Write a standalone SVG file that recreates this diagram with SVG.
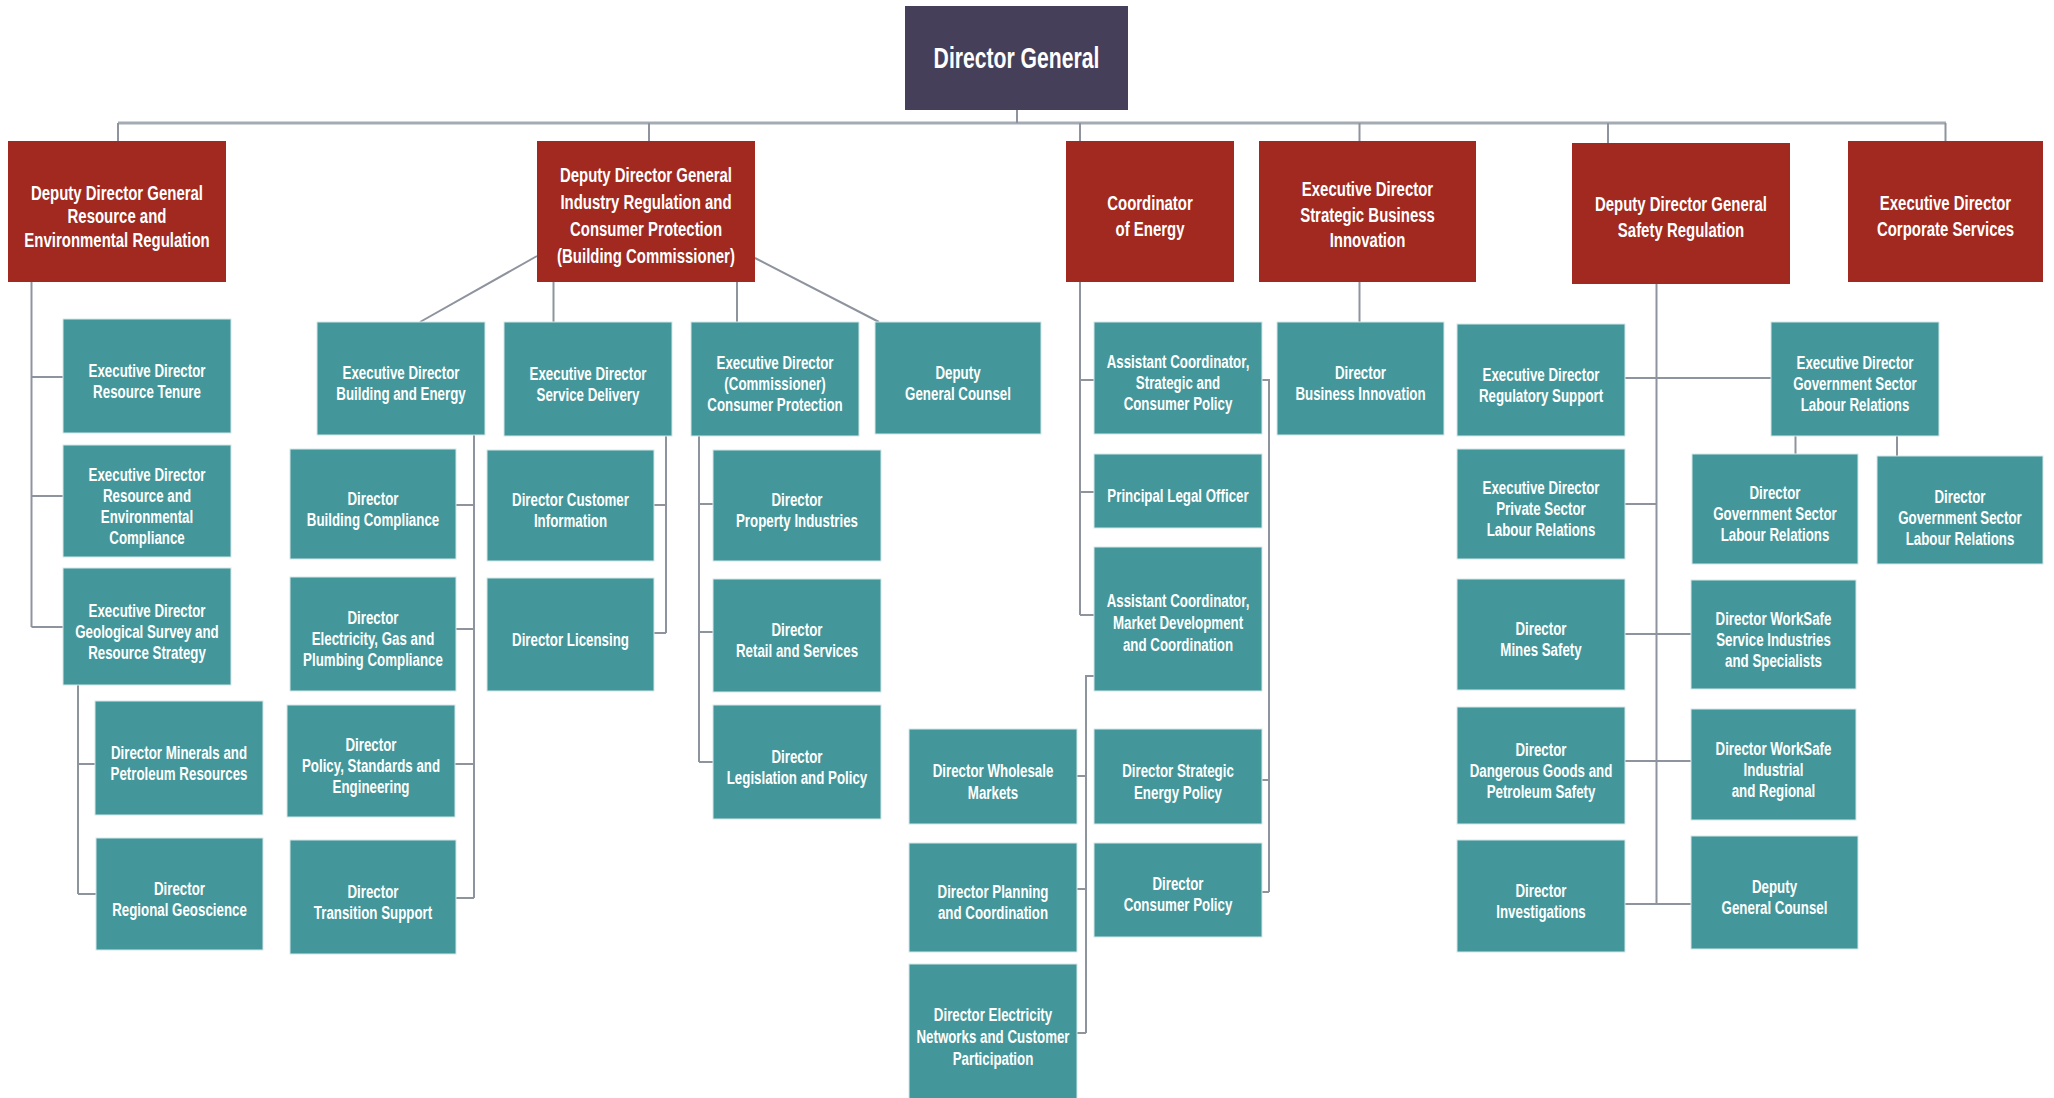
<svg xmlns="http://www.w3.org/2000/svg" width="2054" height="1098" viewBox="0 0 2054 1098">
<style>
.bg{fill:#ffffff}
.dg{fill:#463f5a}
.red{fill:#a1291f}
.teal{fill:#43979b;stroke:#d6e7e8;stroke-width:1}
.t{font-family:"Liberation Sans",Arial,sans-serif;font-weight:bold;fill:#ffffff;text-anchor:middle}
.ts{font-size:18.5px}
.tr{font-size:20.5px}
.tdg{font-size:29px}
.conn path{stroke:#8d949e;stroke-width:2;fill:none}
.conn .bus{stroke:#a4abb3;stroke-width:3}
</style>
<rect class="bg" x="0" y="0" width="2054" height="1098"/>

<g class="conn" id="connectors">
<path class="bus" d="M118 123 H1946"/>
<path d="M1017 110 V123 M118 123 V141 M649 123 V141 M1080 123 V141 M1359.5 123 V141 M1608 123 V143 M1945.5 123 V141"/>
<path d="M31.5 282 V627 M31.5 377 H63 M31.5 496 H63 M31.5 627 H63"/>
<path d="M78 685 V894 M78 764 H95 M78 894 H96"/>
<path d="M537 256 L420 322 M553.5 282 V322 M737 282 V322 M755 258 L879 322"/>
<path d="M474 435 V898 M456 505 H474 M456 629 H474 M455 764 H474 M456 898 H474"/>
<path d="M666 436 V633 M654 505 H666 M654 633 H666"/>
<path d="M699 436 V762 M699 504 H713 M699 632 H713 M699 762 H713"/>
<path d="M1080 282 V615 M1080 380 H1094 M1080 492 H1094 M1080 615 H1094"/>
<path d="M1094 676 H1086 V1033 M1077 776 H1086 M1077 889 H1086 M1077 1033 H1086"/>
<path d="M1262 380 H1269 V892 M1262 780 H1269 M1262 892 H1269"/>
<path d="M1359.5 282 V322"/>
<path d="M1656.5 284 V904 M1625 378 H1771 M1625 504 H1656.5 M1625 634 H1691 M1625 761 H1691 M1625 904 H1691"/>
<path d="M1795.5 436 V454 M1897 436 V456"/>
</g>

<g id="director-general">
<rect class="dg" x="905" y="6" width="223" height="104"/>
<text class="t tdg" transform="translate(1016.5 0) scale(0.73 1)"><tspan x="0" y="68.5">Director General</tspan></text>
</g>

<g id="ddg-resource">
<rect class="red" x="8" y="141" width="218" height="141"/>
<text class="t tr" transform="translate(117 0) scale(0.73 1)"><tspan x="0" y="200.5">Deputy Director General</tspan><tspan x="0" y="223.5">Resource and</tspan><tspan x="0" y="247">Environmental Regulation</tspan></text>
</g>
<g id="ddg-industry">
<rect class="red" x="537" y="141" width="218" height="141"/>
<text class="t tr" transform="translate(646 0) scale(0.73 1)"><tspan x="0" y="182.5">Deputy Director General</tspan><tspan x="0" y="209.5">Industry Regulation and</tspan><tspan x="0" y="236.5">Consumer Protection</tspan><tspan x="0" y="263.5">(Building Commissioner)</tspan></text>
</g>
<g id="coordinator-energy">
<rect class="red" x="1066" y="141" width="168" height="141"/>
<text class="t tr" transform="translate(1150 0) scale(0.73 1)"><tspan x="0" y="210.5">Coordinator</tspan><tspan x="0" y="236.5">of Energy</tspan></text>
</g>
<g id="ed-sbi">
<rect class="red" x="1259" y="141" width="217" height="141"/>
<text class="t tr" transform="translate(1367.5 0) scale(0.73 1)"><tspan x="0" y="196">Executive Director</tspan><tspan x="0" y="222">Strategic Business</tspan><tspan x="0" y="247.5">Innovation</tspan></text>
</g>
<g id="ddg-safety">
<rect class="red" x="1572" y="143" width="218" height="141"/>
<text class="t tr" transform="translate(1681 0) scale(0.73 1)"><tspan x="0" y="211.5">Deputy Director General</tspan><tspan x="0" y="237.5">Safety Regulation</tspan></text>
</g>
<g id="ed-corporate">
<rect class="red" x="1848" y="141" width="195" height="141"/>
<text class="t tr" transform="translate(1945.5 0) scale(0.73 1)"><tspan x="0" y="210.5">Executive Director</tspan><tspan x="0" y="236.5">Corporate Services</tspan></text>
</g>

<g id="ed-resource-tenure">
<rect class="teal" x="63" y="319" width="168" height="114"/>
<text class="t ts" transform="translate(147 0) scale(0.72 1)"><tspan x="0" y="377.5">Executive Director</tspan><tspan x="0" y="398.5">Resource Tenure</tspan></text>
</g>
<g id="ed-resource-env">
<rect class="teal" x="63" y="445" width="168" height="112"/>
<text class="t ts" transform="translate(147 0) scale(0.72 1)"><tspan x="0" y="481">Executive Director</tspan><tspan x="0" y="502">Resource and</tspan><tspan x="0" y="523">Environmental</tspan><tspan x="0" y="544">Compliance</tspan></text>
</g>
<g id="ed-geological">
<rect class="teal" x="63" y="568" width="168" height="117"/>
<text class="t ts" transform="translate(147 0) scale(0.72 1)"><tspan x="0" y="617">Executive Director</tspan><tspan x="0" y="638">Geological Survey and</tspan><tspan x="0" y="659">Resource Strategy</tspan></text>
</g>
<g id="dir-minerals">
<rect class="teal" x="95" y="701" width="168" height="114"/>
<text class="t ts" transform="translate(179 0) scale(0.72 1)"><tspan x="0" y="759">Director Minerals and</tspan><tspan x="0" y="780">Petroleum Resources</tspan></text>
</g>
<g id="dir-regional-geoscience">
<rect class="teal" x="96" y="838" width="167" height="112"/>
<text class="t ts" transform="translate(179.5 0) scale(0.72 1)"><tspan x="0" y="895">Director</tspan><tspan x="0" y="916">Regional Geoscience</tspan></text>
</g>

<g id="ed-building-energy">
<rect class="teal" x="317" y="322" width="168" height="113"/>
<text class="t ts" transform="translate(401 0) scale(0.72 1)"><tspan x="0" y="379.5">Executive Director</tspan><tspan x="0" y="400.5">Building and Energy</tspan></text>
</g>
<g id="dir-building-compliance">
<rect class="teal" x="290" y="449" width="166" height="110"/>
<text class="t ts" transform="translate(373 0) scale(0.72 1)"><tspan x="0" y="505">Director</tspan><tspan x="0" y="526">Building Compliance</tspan></text>
</g>
<g id="dir-egp-compliance">
<rect class="teal" x="290" y="577" width="166" height="114"/>
<text class="t ts" transform="translate(373 0) scale(0.72 1)"><tspan x="0" y="624.5">Director</tspan><tspan x="0" y="645.5">Electricity, Gas and</tspan><tspan x="0" y="666.5">Plumbing Compliance</tspan></text>
</g>
<g id="dir-policy-standards">
<rect class="teal" x="287" y="705" width="168" height="112"/>
<text class="t ts" transform="translate(371 0) scale(0.72 1)"><tspan x="0" y="751.5">Director</tspan><tspan x="0" y="772.5">Policy, Standards and</tspan><tspan x="0" y="793.5">Engineering</tspan></text>
</g>
<g id="dir-transition-support">
<rect class="teal" x="290" y="840" width="166" height="114"/>
<text class="t ts" transform="translate(373 0) scale(0.72 1)"><tspan x="0" y="898">Director</tspan><tspan x="0" y="919">Transition Support</tspan></text>
</g>
<g id="ed-service-delivery">
<rect class="teal" x="504" y="322" width="168" height="114"/>
<text class="t ts" transform="translate(588 0) scale(0.72 1)"><tspan x="0" y="380">Executive Director</tspan><tspan x="0" y="401">Service Delivery</tspan></text>
</g>
<g id="dir-customer-info">
<rect class="teal" x="487" y="450" width="167" height="111"/>
<text class="t ts" transform="translate(570.5 0) scale(0.72 1)"><tspan x="0" y="506.5">Director Customer</tspan><tspan x="0" y="527.5">Information</tspan></text>
</g>
<g id="dir-licensing">
<rect class="teal" x="487" y="578" width="167" height="113"/>
<text class="t ts" transform="translate(570.5 0) scale(0.72 1)"><tspan x="0" y="646">Director Licensing</tspan></text>
</g>
<g id="ed-consumer-protection">
<rect class="teal" x="691" y="322" width="168" height="114"/>
<text class="t ts" transform="translate(775 0) scale(0.72 1)"><tspan x="0" y="369.5">Executive Director</tspan><tspan x="0" y="390.5">(Commissioner)</tspan><tspan x="0" y="411.5">Consumer Protection</tspan></text>
</g>
<g id="deputy-general-counsel-1">
<rect class="teal" x="875" y="322" width="166" height="112"/>
<text class="t ts" transform="translate(958 0) scale(0.72 1)"><tspan x="0" y="379">Deputy</tspan><tspan x="0" y="400">General Counsel</tspan></text>
</g>
<g id="dir-property-industries">
<rect class="teal" x="713" y="450" width="168" height="111"/>
<text class="t ts" transform="translate(797 0) scale(0.72 1)"><tspan x="0" y="506.5">Director</tspan><tspan x="0" y="527.5">Property Industries</tspan></text>
</g>
<g id="dir-retail-services">
<rect class="teal" x="713" y="579" width="168" height="113"/>
<text class="t ts" transform="translate(797 0) scale(0.72 1)"><tspan x="0" y="636.5">Director</tspan><tspan x="0" y="657.5">Retail and Services</tspan></text>
</g>
<g id="dir-legislation-policy">
<rect class="teal" x="713" y="705" width="168" height="114"/>
<text class="t ts" transform="translate(797 0) scale(0.72 1)"><tspan x="0" y="763">Director</tspan><tspan x="0" y="784">Legislation and Policy</tspan></text>
</g>

<g id="asst-coord-strategic">
<rect class="teal" x="1094" y="322" width="168" height="112"/>
<text class="t ts" transform="translate(1178 0) scale(0.72 1)"><tspan x="0" y="368.5">Assistant Coordinator,</tspan><tspan x="0" y="389.5">Strategic and</tspan><tspan x="0" y="410.5">Consumer Policy</tspan></text>
</g>
<g id="principal-legal-officer">
<rect class="teal" x="1094" y="454" width="168" height="74"/>
<text class="t ts" transform="translate(1178 0) scale(0.72 1)"><tspan x="0" y="502.5">Principal Legal Officer</tspan></text>
</g>
<g id="asst-coord-market">
<rect class="teal" x="1094" y="547" width="168" height="144"/>
<text class="t ts" transform="translate(1178 0) scale(0.72 1)"><tspan x="0" y="607.5">Assistant Coordinator,</tspan><tspan x="0" y="629.5">Market Development</tspan><tspan x="0" y="651.5">and Coordination</tspan></text>
</g>
<g id="dir-wholesale-markets">
<rect class="teal" x="909" y="729" width="168" height="95"/>
<text class="t ts" transform="translate(993 0) scale(0.72 1)"><tspan x="0" y="777.5">Director Wholesale</tspan><tspan x="0" y="799.5">Markets</tspan></text>
</g>
<g id="dir-planning-coordination">
<rect class="teal" x="909" y="843" width="168" height="109"/>
<text class="t ts" transform="translate(993 0) scale(0.72 1)"><tspan x="0" y="898">Director Planning</tspan><tspan x="0" y="919.5">and Coordination</tspan></text>
</g>
<g id="dir-electricity-networks">
<rect class="teal" x="909" y="964" width="168" height="135"/>
<text class="t ts" transform="translate(993 0) scale(0.72 1)"><tspan x="0" y="1021.5">Director Electricity</tspan><tspan x="0" y="1043.5">Networks and Customer</tspan><tspan x="0" y="1065.5">Participation</tspan></text>
</g>
<g id="dir-strategic-energy">
<rect class="teal" x="1094" y="729" width="168" height="95"/>
<text class="t ts" transform="translate(1178 0) scale(0.72 1)"><tspan x="0" y="777.5">Director Strategic</tspan><tspan x="0" y="799.5">Energy Policy</tspan></text>
</g>
<g id="dir-consumer-policy">
<rect class="teal" x="1094" y="843" width="168" height="94"/>
<text class="t ts" transform="translate(1178 0) scale(0.72 1)"><tspan x="0" y="890.5">Director</tspan><tspan x="0" y="911.5">Consumer Policy</tspan></text>
</g>

<g id="dir-business-innovation">
<rect class="teal" x="1277" y="322" width="167" height="113"/>
<text class="t ts" transform="translate(1360.5 0) scale(0.72 1)"><tspan x="0" y="379.5">Director</tspan><tspan x="0" y="400.5">Business Innovation</tspan></text>
</g>

<g id="ed-regulatory-support">
<rect class="teal" x="1457" y="324" width="168" height="112"/>
<text class="t ts" transform="translate(1541 0) scale(0.72 1)"><tspan x="0" y="381">Executive Director</tspan><tspan x="0" y="402">Regulatory Support</tspan></text>
</g>
<g id="ed-private-sector">
<rect class="teal" x="1457" y="449" width="168" height="110"/>
<text class="t ts" transform="translate(1541 0) scale(0.72 1)"><tspan x="0" y="494.5">Executive Director</tspan><tspan x="0" y="515.5">Private Sector</tspan><tspan x="0" y="536.5">Labour Relations</tspan></text>
</g>
<g id="dir-mines-safety">
<rect class="teal" x="1457" y="579" width="168" height="111"/>
<text class="t ts" transform="translate(1541 0) scale(0.72 1)"><tspan x="0" y="635.5">Director</tspan><tspan x="0" y="656.5">Mines Safety</tspan></text>
</g>
<g id="dir-dangerous-goods">
<rect class="teal" x="1457" y="707" width="168" height="117"/>
<text class="t ts" transform="translate(1541 0) scale(0.72 1)"><tspan x="0" y="756">Director</tspan><tspan x="0" y="777">Dangerous Goods and</tspan><tspan x="0" y="798">Petroleum Safety</tspan></text>
</g>
<g id="dir-investigations">
<rect class="teal" x="1457" y="840" width="168" height="112"/>
<text class="t ts" transform="translate(1541 0) scale(0.72 1)"><tspan x="0" y="897">Director</tspan><tspan x="0" y="918">Investigations</tspan></text>
</g>
<g id="ed-gov-sector">
<rect class="teal" x="1771" y="322" width="168" height="114"/>
<text class="t ts" transform="translate(1855 0) scale(0.72 1)"><tspan x="0" y="369.5">Executive Director</tspan><tspan x="0" y="390.5">Government Sector</tspan><tspan x="0" y="411.5">Labour Relations</tspan></text>
</g>
<g id="dir-gov-sector-a">
<rect class="teal" x="1692" y="454" width="166" height="110"/>
<text class="t ts" transform="translate(1775 0) scale(0.72 1)"><tspan x="0" y="499.5">Director</tspan><tspan x="0" y="520.5">Government Sector</tspan><tspan x="0" y="541.5">Labour Relations</tspan></text>
</g>
<g id="dir-gov-sector-b">
<rect class="teal" x="1877" y="456" width="166" height="108"/>
<text class="t ts" transform="translate(1960 0) scale(0.72 1)"><tspan x="0" y="503.5">Director</tspan><tspan x="0" y="524.5">Government Sector</tspan><tspan x="0" y="545.5">Labour Relations</tspan></text>
</g>
<g id="dir-worksafe-service">
<rect class="teal" x="1691" y="580" width="165" height="109"/>
<text class="t ts" transform="translate(1773.5 0) scale(0.72 1)"><tspan x="0" y="625">Director WorkSafe</tspan><tspan x="0" y="646">Service Industries</tspan><tspan x="0" y="667">and Specialists</tspan></text>
</g>
<g id="dir-worksafe-industrial">
<rect class="teal" x="1691" y="709" width="165" height="111"/>
<text class="t ts" transform="translate(1773.5 0) scale(0.72 1)"><tspan x="0" y="755">Director WorkSafe</tspan><tspan x="0" y="776">Industrial</tspan><tspan x="0" y="797">and Regional</tspan></text>
</g>
<g id="deputy-general-counsel-2">
<rect class="teal" x="1691" y="836" width="167" height="113"/>
<text class="t ts" transform="translate(1774.5 0) scale(0.72 1)"><tspan x="0" y="893.5">Deputy</tspan><tspan x="0" y="914.5">General Counsel</tspan></text>
</g>
</svg>
